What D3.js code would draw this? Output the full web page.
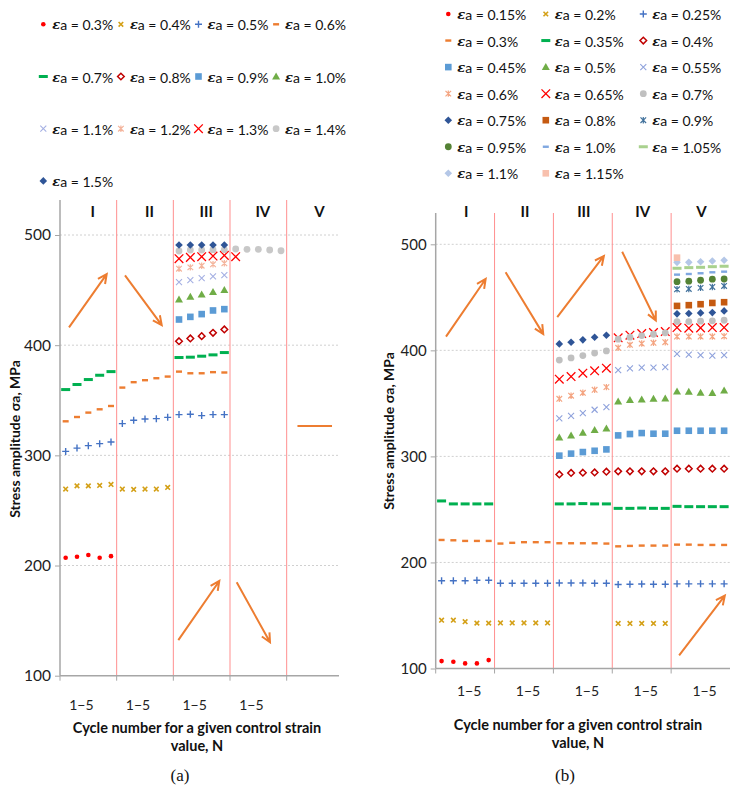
<!DOCTYPE html>
<html><head><meta charset="utf-8">
<script src="https://cdn.jsdelivr.net/npm/d3@7"></script>
<style>body{margin:0;background:#fff}svg{display:block}</style>
</head><body><svg id="c" width="735" height="790"></svg>
<script>
const N = null;
const E5 = [N,N,N,N,N];
const sections = ["I","II","III","IV","V"];
const yTicks = [100,200,300,400,500];
const gridTicks = [200,300,400,500];
const cycleLabel = "1\u22125";
const xTitle = ["Cycle number for a given control strain", "value, N"];
const yTitle = "Stress amplitude \u03c3a, MPa";

// ---------- (a) ----------
const aNames = ["0.3%","0.4%","0.5%","0.6%","0.7%","0.8%","0.9%","1.0%","1.1%","1.2%","1.3%","1.4%","1.5%"];
const a030 = [207,208,209.5,207,208.5, ...E5, ...E5, ...E5, ...E5];
const a040 = [269.4,272.3,272.3,272.7,273.6, 269.4,269.1,269.4,269.4,270.9, ...E5, ...E5, ...E5];
const a050 = [303.6,306.6,308.8,310.6,312.1, 328.8,331.8,333,333.3,334.5, 337,337.3,336.1,337,337, ...E5, ...E5];
const a060 = [330.9,334.8,338.8,341.8,344.8, 361.5,366.4,368.2,370,371.5, 376,374.5,374.5,375.5,375.2, ...E5, ...E5];
const a070 = [359.7,364.3,368.8,372.7,376, ...E5, 388.8,389.1,390,391.2,393.3, ...E5, ...E5];
const a080 = [...E5, ...E5, 403.6,406.1,408.2,411.2,414.3, ...E5, ...E5];
const a090 = [...E5, ...E5, 423.3,425.7,428.2,431.5,432.7, ...E5, ...E5];
const a100 = [...E5, ...E5, 441.5,443.9,446.1,448.2,450, ...E5, ...E5];
const a110 = [...E5, ...E5, 457.3,459.1,460.9,462.4,463.6, ...E5, ...E5];
const a120 = [...E5, ...E5, 469.4,470.6,472.1,473.4,474.3, ...E5, ...E5];
const a130 = [...E5, ...E5, 478.5,479.7,480.3,480.9,481.5, 480.3,N,N,N,N, ...E5];
const a140 = [...E5, ...E5, 485.5,486.4,486.4,486.7,486.7, 487.3,487,487,486.4,485.7, ...E5];
const a150 = [...E5, ...E5, 490.9,490.9,490.9,490.9,490.9, ...E5, ...E5];
const aSeries = [a030,a040,a050,a060,a070,a080,a090,a100,a110,a120,a130,a140,a150];
// arrows: [sectionPosFrom, stressFrom, sectionPosTo, stressTo]
const aArrows = [[0.159,416.1,0.824,464.5],[1.147,463.4,1.795,418.2],[2.088,132.3,2.811,186],[3.118,184.8,3.706,130.3]];
const aSegment = [4.19, 4.80, 326.6];

// ---------- (b) ----------
const bNames = ["0.15%","0.2%","0.25%","0.3%","0.35%","0.4%","0.45%","0.5%","0.55%","0.6%","0.65%","0.7%","0.75%","0.8%","0.9%","0.95%","1.0%","1.05%","1.1%","1.15%"];
const b015 = [107,106.4,104.8,104.8,107.9, ...E5, ...E5, ...E5, ...E5];
const b020 = [145.6,145.6,144.1,142.8,142.8, 143,143,143,143,143, ...E5, 142.5,142.5,142.5,142.5,142.5, ...E5];
const b025 = [182.7,182.7,182.7,183.2,183.2, 180.4,180.4,180.4,180.4,180.4, 180.6,180.6,180.6,180.4,180.4, 179.2,179.5,179.7,179.5,179.5, 179.8,179.8,179.8,179.8,179.8];
const b030 = [221.2,220.9,220.3,220.3,220.3, 217.8,218.5,219.1,219.1,219.1, 218.1,218.1,218.1,218.1,217.8, 215.2,215.6,215.9,215.9,215.9, 216.8,216.8,216.5,216.5,216.5];
const b035 = [258,255.2,255.2,255.2,255.2, ...E5, 255.2,255.2,255.5,255.2,255.2, 251,251,251.3,251,251, 252.9,252.6,252.6,252.6,252.6];
const b040 = [...E5, ...E5, 283,284.4,284.6,284.9,285.6, 285.9,285.9,285.9,285.9,285.9, 288.4,288.4,288.4,288.4,288.4];
const b045 = [...E5, ...E5, 300.7,302.6,304.1,305.3,306.6, 319.8,321.1,322,321.4,321.4, 324.2,324.2,324.2,324.2,324.2];
const b050 = [...E5, ...E5, 317.9,319.8,322.3,324.9,326.4, 351.8,353.1,353.7,354.4,354.6, 361.2,360.9,360,359.7,362.1];
const b055 = [...E5, ...E5, 335.8,338.3,340.8,344,346.5, 381.4,382.9,383.8,383.8,384.2, 396.7,396,395.5,395.1,395.5];
const b060 = [...E5, ...E5, 354.3,357.2,360,362.8,365.3, 402.4,405.2,406.4,407.1,407.7, 413,413,413,413,413.3];
const b065 = [...E5, ...E5, 372.8,375.3,378.5,380.7,383.2, 411.8,414.3,415.8,416.8,417.7, 421.5,420.9,421.2,421.5,421.5];
const b070 = [...E5, ...E5, 390.8,392.9,395.1,397.4,399.5, 410.5,412.4,413.9,415.2,416.5, 427.1,427.1,427.5,427.8,428.4];
const b075 = [...E5, ...E5, 406.1,407.7,409.9,412.4,414.3, ...E5, 434.4,434.7,435.3,435.6,437.2];
const b080 = [...E5, ...E5, ...E5, ...E5, 441.9,442.6,443.5,444.7,445.4];
const b090 = [...E5, ...E5, ...E5, ...E5, 457.6,457.9,458.9,459.8,460.7];
const b095 = [...E5, ...E5, ...E5, ...E5, 464.8,465.2,466.1,467.1,467.3];
const b100 = [...E5, ...E5, ...E5, ...E5, 471.4,472,472.7,473.6,474.2];
const b105 = [...E5, ...E5, ...E5, ...E5, 477.4,478,478.3,478.9,479.3];
const b110 = [...E5, ...E5, ...E5, ...E5, 483,483,483.6,484.3,484.9];
const b115 = [...E5, ...E5, ...E5, ...E5, 487.4,N,N,N,N];
const bSeries = [b015,b020,b025,b030,b035,b040,b045,b050,b055,b060,b065,b070,b075,b080,b090,b095,b100,b105,b110,b115];
const bArrows = [[0.175,413,0.849,467.3],[1.188,473.6,1.827,415.3],[2.065,431.3,2.857,489],[3.168,493,3.740,428.1],[4.136,112.3,4.912,168.8]];

// ---------- styles (kept apart from data) ----------
const aTypes  = ["dot","xs","plus","dashS","dashL","diamondO","square","tri","x","star","bigX","circle","diamond"];
const aColors = ["#ff0000","#d4a017","#4472c4","#ed7d31","#00b050","#c00000","#5b9bd5","#70ad47","#a5b0e3","#f4b49c","#ff0000","#c8c8c8","#2f5597"];
const bTypes  = ["dot","xs","plus","dashS","dashL","diamondO","square","tri","x","star","bigX","circle","diamond","square","star","circle","dashS","dashL","diamond","square"];
const bColors = ["#ff0000","#d4a017","#4472c4","#ed7d31","#00b050","#c00000","#5b9bd5","#70ad47","#8fa2dc","#f4a582","#ff0000","#c0c0c0","#2f5597","#c55a11","#41719c","#548235","#7fa7e0","#a9d18e","#b4c7e7","#f8c0ad"];

const FONT = "Lato, 'Liberation Sans', Arial, sans-serif";
const svg = d3.select("#c");

function marker(g, type, color) {
  const st = (p, w) => g.append("path").attr("d", p).attr("fill", "none").attr("stroke", color).attr("stroke-width", w);
  switch (type) {
    case "dot": g.append("circle").attr("r", 2.3).attr("fill", color); break;
    case "circle": g.append("circle").attr("r", 3.4).attr("fill", color); break;
    case "xs": st("M-2.3,-2.3L2.3,2.3M-2.3,2.3L2.3,-2.3", 1.6); break;
    case "plus": st("M-3.5,0H3.5M0,-3.5V3.5", 1.4); break;
    case "dashS": g.append("rect").attr("x", -3).attr("y", -1.2).attr("width", 6).attr("height", 2.4).attr("fill", color); break;
    case "dashL": g.append("rect").attr("x", -4.5).attr("y", -1.5).attr("width", 9).attr("height", 3).attr("fill", color); break;
    case "diamondO": g.append("path").attr("d", "M0,-3.3L3.3,0L0,3.3L-3.3,0Z").attr("fill", "#fff").attr("stroke", color).attr("stroke-width", 1.5); break;
    case "diamond": g.append("path").attr("d", "M0,-3.8L3.8,0L0,3.8L-3.8,0Z").attr("fill", color); break;
    case "square": g.append("rect").attr("x", -3.3).attr("y", -3.3).attr("width", 6.6).attr("height", 6.6).attr("fill", color); break;
    case "tri": g.append("path").attr("d", "M0,-4L4,3L-4,3Z").attr("fill", color); break;
    case "x": st("M-3,-3L3,3M-3,3L3,-3", 1.1); break;
    case "star": st("M-2.8,-2.8L2.8,2.8M-2.8,2.8L2.8,-2.8M0,-3.2V3.2", 1.2); break;
    case "bigX": st("M-4.3,-4.3L4.3,4.3M-4.3,4.3L4.3,-4.3", 1.3); break;
  }
}

function drawChart(c) {
  const g = svg.append("g");
  const xs = d3.scaleLinear().domain([0, 5]).range([c.x0, c.x0 + 5 * c.sw]);
  const xb = d3.scaleBand().domain(d3.range(25)).range([c.x0, c.x0 + 5 * c.sw]);
  const y = d3.scaleLinear().domain([100, 500]).range(c.yRange);
  const cx = i => xb(i) + xb.bandwidth() / 2;

  g.selectAll(".grid").data(gridTicks).join("line")
    .attr("x1", c.x0).attr("x2", c.axisEnd).attr("y1", d => y(d)).attr("y2", d => y(d))
    .attr("stroke", "#d0d0d0").attr("stroke-width", 1).attr("stroke-dasharray", "2,2");

  g.selectAll(".div").data([1, 2, 3, 4]).join("line")
    .attr("x1", d => xs(d)).attr("x2", d => xs(d)).attr("y1", c.top).attr("y2", y(100))
    .attr("stroke", "#ff8f8f").attr("stroke-width", 1);

  const ya = g.append("g").attr("transform", `translate(${c.x0},0)`)
    .call(d3.axisLeft(y).tickValues(yTicks).tickSize(5).tickPadding(4));
  ya.select(".domain").remove();
  ya.selectAll(".tick line").attr("stroke", "#a6a6a6");
  ya.selectAll(".tick text").attr("font-family", FONT).attr("font-size", c.tickFont).attr("fill", "#222");
  g.append("line").attr("x1", c.x0).attr("x2", c.x0).attr("y1", c.top).attr("y2", y(100))
    .attr("stroke", "#a6a6a6").attr("stroke-width", 1.5);

  g.append("line").attr("x1", c.x0).attr("x2", c.axisEnd).attr("y1", y(100)).attr("y2", y(100))
    .attr("stroke", "#a6a6a6").attr("stroke-width", 1.5);
  g.selectAll(".xt").data([0, 1, 2, 3, 4]).join("line")
    .attr("x1", d => xs(d)).attr("x2", d => xs(d)).attr("y1", y(100)).attr("y2", y(100) + 5)
    .attr("stroke", "#a6a6a6").attr("stroke-width", 1);

  g.selectAll(".cl").data(d3.range(c.cycleCount)).join("text")
    .attr("x", d => xs(d + 0.5) + c.cycleShift).attr("y", c.cycleY)
    .attr("text-anchor", "middle").attr("dominant-baseline", "central")
    .attr("font-family", FONT).attr("font-size", 14).attr("fill", "#222").text(cycleLabel);

  g.selectAll(".sl").data(sections).join("text")
    .attr("x", (d, i) => xs(i + 0.5) + c.secShift).attr("y", c.secY)
    .attr("text-anchor", "middle").attr("dominant-baseline", "central")
    .attr("font-family", FONT).attr("font-size", 15).attr("font-weight", "bold").attr("fill", "#111").text(d => d);

  g.append("text").attr("transform", `translate(${c.yTitleX},${c.yTitleY}) rotate(-90)`)
    .attr("text-anchor", "middle").attr("dominant-baseline", "central")
    .attr("font-family", FONT).attr("font-size", 14).attr("font-weight", "bold").attr("fill", "#111").text(yTitle);
  xTitle.forEach((t, i) => g.append("text").attr("x", c.xTitleX).attr("y", c.xTitleY[i])
    .attr("text-anchor", "middle").attr("dominant-baseline", "central")
    .attr("font-family", FONT).attr("font-size", 14.5).attr("font-weight", "bold").attr("fill", "#111").text(t));
  g.append("text").attr("x", c.capX).attr("y", 775).attr("text-anchor", "middle").attr("dominant-baseline", "central")
    .attr("font-family", "'Liberation Serif', 'DejaVu Serif', serif").attr("font-size", 17).attr("fill", "#111").text(c.cap);

  const arrowColor = "#ed7d31";
  c.arrows.forEach(a => {
    const x1 = xs(a[0]), y1 = y(a[1]), x2 = xs(a[2]), y2 = y(a[3]);
    const ang = Math.atan2(y2 - y1, x2 - x1);
    const L = 10, sp = 0.45;
    const p = `M${x1},${y1}L${x2},${y2}` +
      `M${x2 - L * Math.cos(ang - sp)},${y2 - L * Math.sin(ang - sp)}L${x2},${y2}L${x2 - L * Math.cos(ang + sp)},${y2 - L * Math.sin(ang + sp)}`;
    g.append("path").attr("d", p).attr("fill", "none").attr("stroke", arrowColor).attr("stroke-width", 2);
  });
  if (c.segment) {
    g.append("line").attr("x1", xs(c.segment[0])).attr("x2", xs(c.segment[1]))
      .attr("y1", y(c.segment[2])).attr("y2", y(c.segment[2]))
      .attr("stroke", arrowColor).attr("stroke-width", 2);
  }

  c.series.forEach((s, k) => {
    s.forEach((v, i) => {
      if (v == null) return;
      const m = g.append("g").attr("transform", `translate(${cx(i)},${y(v)})`);
      marker(m, c.types[k], c.colors[k]);
    });
  });

  c.names.forEach((nm, k) => {
    const col = k % c.lg.cols, row = Math.floor(k / c.lg.cols);
    const lx = c.lg.x0 + col * c.lg.dx, ly = c.lg.y0 + row * c.lg.dy;
    const m = g.append("g").attr("transform", `translate(${lx},${ly})`);
    marker(m, c.types[k], c.colors[k]);
    const t = g.append("text").attr("x", lx + 9).attr("y", ly).attr("dominant-baseline", "central")
      .attr("font-family", FONT).attr("font-size", 14).attr("fill", "#111");
    t.append("tspan").attr("font-weight", "bold").attr("font-style", "italic")
      .attr("font-family", "'DejaVu Serif', serif").attr("font-size", 13).text("\u03b5");
    t.append("tspan").text("a = " + nm);
  });
}

drawChart({
  x0: 60, sw: 56.67, axisEnd: 339, top: 200, yRange: [675.7, 235],
  tickFont: 15.5, cycleCount: 4, cycleShift: -7, cycleY: 704, secShift: 4.5, secY: 210.5,
  yTitleX: 14, yTitleY: 439, xTitleX: 197, xTitleY: [727, 745.5], capX: 180, cap: "(a)",
  arrows: aArrows, segment: aSegment, series: aSeries, names: aNames, types: aTypes, colors: aColors,
  lg: { cols: 4, x0: 43.3, dx: 77.6, y0: 24.3, dy: 52.2 }
});
drawChart({
  x0: 435.7, sw: 58.86, axisEnd: 730, top: 213, yRange: [668.5, 244.3],
  tickFont: 15, cycleCount: 5, cycleShift: 4, cycleY: 690.7, secShift: 1, secY: 211,
  yTitleX: 388, yTitleY: 431, xTitleX: 578, xTitleY: [724, 742], capX: 565, cap: "(b)",
  arrows: bArrows, segment: null, series: bSeries, names: bNames, types: bTypes, colors: bColors,
  lg: { cols: 3, x0: 448.3, dx: 97.5, y0: 14, dy: 26.55 }
});
</script>
</body></html>
